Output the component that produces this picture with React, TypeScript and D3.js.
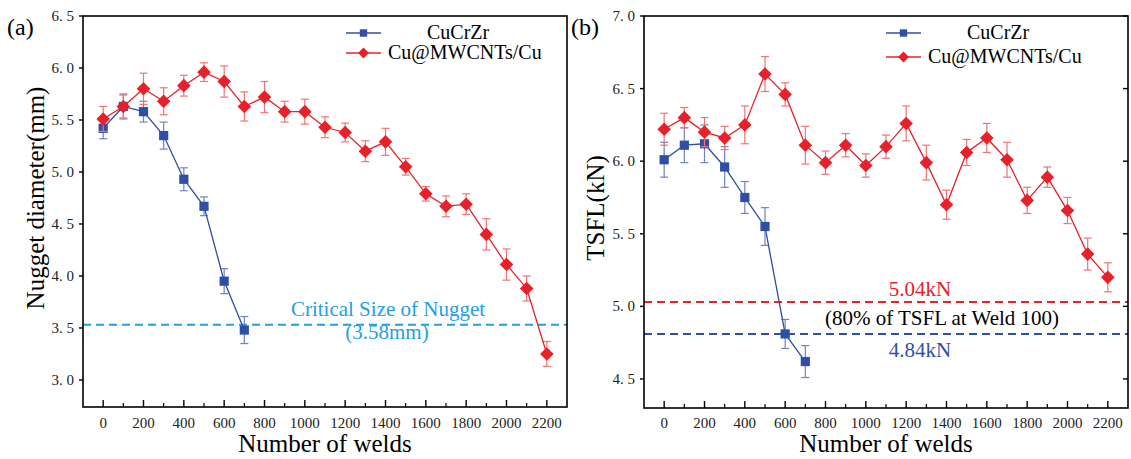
import React from "react";
import * as d3 from "d3";

// welds counted for each sample
const welds = [0, 100, 200, 300, 400, 500, 600, 700, 800, 900, 1000, 1100, 1200, 1300, 1400, 1500, 1600, 1700, 1800, 1900, 2000, 2100, 2200];
const weldsCuCrZr = welds.slice(0, 8);

// (a) nugget diameter, mm
const nuggetCuCrZr = [5.42, 5.63, 5.58, 5.35, 4.93, 4.67, 3.95, 3.48];
const nuggetCuCrZrErr = [0.1, 0.12, 0.1, 0.13, 0.11, 0.09, 0.12, 0.13];
const nuggetCNT = [5.51, 5.63, 5.8, 5.68, 5.83, 5.96, 5.87, 5.63, 5.72, 5.58, 5.58, 5.43, 5.38, 5.2, 5.29, 5.05, 4.79, 4.67, 4.69, 4.4, 4.11, 3.88, 3.25];
const nuggetCNTErr = [0.12, 0.11, 0.15, 0.13, 0.1, 0.09, 0.15, 0.14, 0.15, 0.1, 0.12, 0.1, 0.09, 0.1, 0.13, 0.08, 0.07, 0.1, 0.1, 0.15, 0.15, 0.12, 0.12];

// (b) TSFL, kN
const tsflCuCrZr = [6.01, 6.11, 6.12, 5.96, 5.75, 5.55, 4.81, 4.62];
const tsflCuCrZrErr = [0.12, 0.12, 0.13, 0.14, 0.11, 0.13, 0.1, 0.11];
const tsflCNT = [6.22, 6.3, 6.2, 6.16, 6.25, 6.6, 6.46, 6.11, 5.99, 6.11, 5.97, 6.1, 6.26, 5.99, 5.7, 6.06, 6.16, 6.01, 5.73, 5.89, 5.66, 5.36, 5.2];
const tsflCNTErr = [0.11, 0.07, 0.1, 0.08, 0.13, 0.12, 0.08, 0.13, 0.08, 0.08, 0.08, 0.08, 0.12, 0.12, 0.1, 0.09, 0.1, 0.12, 0.09, 0.07, 0.09, 0.11, 0.1];

const xTicks = [0, 200, 400, 600, 800, 1000, 1200, 1400, 1600, 1800, 2000, 2200];
const xMinor = [100, 300, 500, 700, 900, 1100, 1300, 1500, 1700, 1900, 2100];
const nuggetTicks = [3.0, 3.5, 4.0, 4.5, 5.0, 5.5, 6.0, 6.5];
const tsflTicks = [4.5, 5.0, 5.5, 6.0, 6.5, 7.0];

const seriesNames = ["CuCrZr", "Cu@MWCNTs/Cu"];
const criticalNugget = 3.53;
const tsflLimitCNT = 5.03;
const tsflLimitCuCrZr = 4.81;

const BLUE = "#2f4fa6";
const BLUE_ERR = "#6f82c6";
const RED = "#e8202a";
const RED_ERR = "#f07474";
const SERIF = "Liberation Serif, Times New Roman, DejaVu Serif, serif";

const fmtTick = (d) => d.toFixed(1).replace(".", ". ");

function Series({ xs, ys, errs, x, y, color, errColor, shape }) {
  const line = d3.line().x((d, i) => x(xs[i])).y((d) => y(d));
  return (
    <g>
      {ys.map((v, i) => (
        <g key={"e" + i} stroke={errColor} strokeWidth={1.2}>
          <line x1={x(xs[i])} x2={x(xs[i])} y1={y(v - errs[i])} y2={y(v + errs[i])} />
          <line x1={x(xs[i]) - 4} x2={x(xs[i]) + 4} y1={y(v - errs[i])} y2={y(v - errs[i])} />
          <line x1={x(xs[i]) - 4} x2={x(xs[i]) + 4} y1={y(v + errs[i])} y2={y(v + errs[i])} />
        </g>
      ))}
      <path d={line(ys)} fill="none" stroke={color} strokeWidth={1.3} />
      {ys.map((v, i) => (
        <Marker key={"m" + i} cx={x(xs[i])} cy={y(v)} color={color} shape={shape} s={1} />
      ))}
    </g>
  );
}

function Marker({ cx, cy, color, shape, s }) {
  if (shape === "square") {
    const h = 4.6 * s;
    return <rect x={cx - h} y={cy - h} width={2 * h} height={2 * h} fill={color} />;
  }
  const h = 6.8 * s;
  return <path d={`M${cx},${cy - h}L${cx + h},${cy}L${cx},${cy + h}L${cx - h},${cy}Z`} fill={color} />;
}

function Legend({ x0, ys }) {
  const shapes = ["square", "diamond"];
  const colors = [BLUE, RED];
  const offs = [46, 7];
  return (
    <g>
      {seriesNames.map((name, i) => (
        <g key={name}>
          <line x1={x0} x2={x0 + 35} y1={ys[i]} y2={ys[i]} stroke={colors[i]} strokeWidth={1.3} />
          <Marker cx={x0 + 17.5} cy={ys[i]} color={colors[i]} shape={shapes[i]} s={0.8} />
          <text x={x0 + 35 + offs[i]} y={ys[i] + 6} fontSize={20}>{name}</text>
        </g>
      ))}
    </g>
  );
}

function Panel({ left, right, top, bottom, yDomain, yTicks, yTitle, yTitleX, yTitleY, label, labelX, mirror, ys1, e1, ys2, e2, legendX, legendY, children }) {
  const x = d3.scaleLinear().domain([-100, 2300]).range([left, right]);
  const y = d3.scaleLinear().domain(yDomain).range([bottom, top]);
  return (
    <g>
      <defs>
        <clipPath id={"clip" + label}>
          <rect x={left} y={top} width={right - left} height={bottom - top} />
        </clipPath>
      </defs>
      <g clipPath={`url(#clip${label})`}>
        {children(x, y)}
        <Series xs={weldsCuCrZr} ys={ys1} errs={e1} x={x} y={y} color={BLUE} errColor={BLUE_ERR} shape="square" />
        <Series xs={welds} ys={ys2} errs={e2} x={x} y={y} color={RED} errColor={RED_ERR} shape="diamond" />
      </g>
      <rect x={left} y={top} width={right - left} height={bottom - top} fill="none" stroke="#000" strokeWidth={1.6} />
      {xTicks.map((t) => (
        <g key={t}>
          <line x1={x(t)} x2={x(t)} y1={bottom} y2={bottom - 7} stroke="#000" strokeWidth={1.4} />
          <text x={x(t)} y={428} textAnchor="middle" fontSize={15} fill="#222">{t}</text>
        </g>
      ))}
      {xMinor.map((t) => (
        <line key={t} x1={x(t)} x2={x(t)} y1={bottom} y2={bottom - 4} stroke="#000" strokeWidth={1.2} />
      ))}
      {yTicks.map((t) => (
        <g key={t}>
          <line x1={left} x2={left - 4} y1={y(t)} y2={y(t)} stroke="#000" strokeWidth={1.4} />
          {mirror && <line x1={right} x2={right - 5} y1={y(t)} y2={y(t)} stroke="#000" strokeWidth={1.4} />}
          <text x={left - 9} y={y(t) + 5} textAnchor="end" fontSize={15} fill="#222">{fmtTick(t)}</text>
        </g>
      ))}
      <text x={(left + right) / 2} y={452} textAnchor="middle" fontSize={25}>Number of welds</text>
      <text transform={`translate(${yTitleX},${yTitleY}) rotate(-90)`} textAnchor="middle" fontSize={25}>{yTitle}</text>
      <text x={labelX} y={35} fontSize={24}>({label})</text>
      <Legend x0={legendX} ys={legendY} />
    </g>
  );
}

export default function App() {
  return (
    <>
      <style>{`body{margin:0} svg text{font-family:"Liberation Serif","Times New Roman","DejaVu Serif",serif}`}</style>
      <svg width={1131} height={459} style={{ display: "block", background: "#fff", fontFamily: SERIF }}>
        <Panel left={83} right={567} top={16} bottom={407} yDomain={[2.74, 6.5]} yTicks={nuggetTicks}
          yTitle="Nugget diameter(mm)" yTitleX={44} yTitleY={198} label="a" labelX={7} mirror={false}
          ys1={nuggetCuCrZr} e1={nuggetCuCrZrErr} ys2={nuggetCNT} e2={nuggetCNTErr}
          legendX={346} legendY={[33, 53]}>
          {(x, y) => (
            <g>
              <line x1={83} x2={567} y1={y(criticalNugget)} y2={y(criticalNugget)} stroke="#22a0e2" strokeWidth={2} strokeDasharray="8,5" />
              <text x={388} y={y(criticalNugget) - 9} textAnchor="middle" fontSize={21} fill="#22a0e2">Critical Size of Nugget</text>
              <text x={387} y={y(criticalNugget) + 14} textAnchor="middle" fontSize={21} fill="#22a0e2">(3.58mm)</text>
            </g>
          )}
        </Panel>
        <Panel left={644} right={1128} top={16} bottom={408} yDomain={[4.3, 7.0]} yTicks={tsflTicks}
          yTitle="TSFL(kN)" yTitleX={604} yTitleY={208} label="b" labelX={571} mirror={true}
          ys1={tsflCuCrZr} e1={tsflCuCrZrErr} ys2={tsflCNT} e2={tsflCNTErr}
          legendX={886} legendY={[33, 57]}>
          {(x, y) => (
            <g>
              <line x1={644} x2={1128} y1={y(tsflLimitCNT)} y2={y(tsflLimitCNT)} stroke={RED} strokeWidth={2} strokeDasharray="8,5" />
              <line x1={644} x2={1128} y1={y(tsflLimitCuCrZr)} y2={y(tsflLimitCuCrZr)} stroke={BLUE} strokeWidth={2} strokeDasharray="8,5" />
              <text x={920} y={y(tsflLimitCNT) - 6} textAnchor="middle" fontSize={21} fill={RED}>5.04kN</text>
              <text x={942} y={y(tsflLimitCNT) + 23} textAnchor="middle" fontSize={21} fill="#000">(80% of TSFL at Weld 100)</text>
              <text x={920} y={y(tsflLimitCuCrZr) + 23} textAnchor="middle" fontSize={21} fill={BLUE}>4.84kN</text>
            </g>
          )}
        </Panel>
      </svg>
    </>
  );
}
